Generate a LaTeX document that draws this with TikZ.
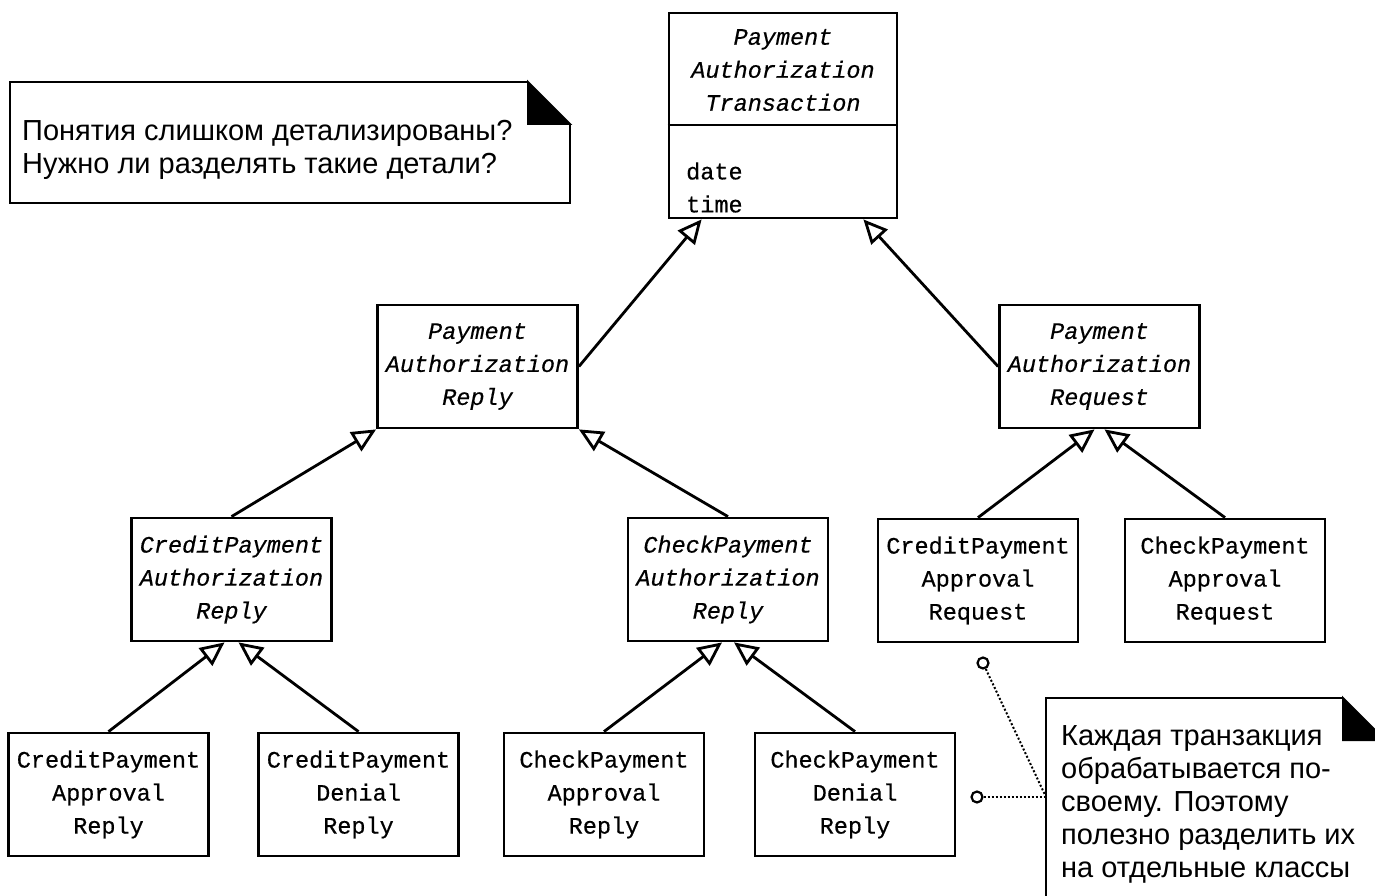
\documentclass[tikz,border=0pt]{standalone}
\usepackage{fontspec}
\setmainfont{Liberation Sans}
\setmonofont[FakeBold=0.5]{Liberation Mono}
\usetikzlibrary{arrows.meta}

\begin{document}
\begin{tikzpicture}[x=1pt,y=-1pt,
    klasse/.style={draw,line width=2.8pt,fill=white,minimum width=200pt,minimum height=123pt,
      inner sep=0pt,align=center,font=\ttfamily\fontsize{23.5}{33}\selectfont},
    abstrakt/.style={klasse,font=\ttfamily\itshape\fontsize{23.5}{33}\selectfont},
    erbt/.style={line width=2.8pt,-{Triangle[open,length=24pt,width=22pt]}},
    notiz/.style={anchor=north west,inner sep=0pt,align=left,font=\fontsize{29}{33}\selectfont},
    punkt/.style={draw,circle,line width=2.2pt,minimum size=11pt,inner sep=0pt},
    anker/.style={line width=2pt,dash pattern=on 2pt off 2pt}]
  \useasboundingbox (0,0) rectangle (1375,896);
  \clip (0,0) rectangle (1375,896);

  % Oberklasse mit Attributen
  \node[klasse,minimum width=228pt,minimum height=205pt] (pat) at (783,115.5) {};
  \draw[line width=2.8pt] (pat.west |- 0,125) -- (pat.east |- 0,125);
  \node[font=\ttfamily\itshape\fontsize{23.5}{33}\selectfont,align=center] (pattitel) at (783,70)
    {Payment\\Authorization\\Transaction};
  \node[font=\ttfamily\fontsize{23.5}{33}\selectfont,align=left,anchor=west,inner sep=0pt] (patattr)
    at (686,187.5) {date\\time};

  % abstrakte Klassen
  \node[abstrakt] (par) at (477.5,366.5) {Payment\\Authorization\\Reply};
  \node[abstrakt] (parq) at (1099.5,366.5) {Payment\\Authorization\\Request};
  \node[abstrakt] (cpar) at (231.5,579.5) {CreditPayment\\Authorization\\Reply};
  \node[abstrakt] (chpar) at (728,579.5) {CheckPayment\\Authorization\\Reply};

  % konkrete Klassen
  \foreach \name/\x/\y/\inhalt in {cpaq/978/580.5/{CreditPayment\\Approval\\Request},
      chpaq/1225/580.5/{CheckPayment\\Approval\\Request},
      cpap/108.5/794.5/{CreditPayment\\Approval\\Reply},
      cpde/358.5/794.5/{CreditPayment\\Denial\\Reply},
      chpap/604/794.5/{CheckPayment\\Approval\\Reply},
      chpde/855/794.5/{CheckPayment\\Denial\\Reply}}
    \node[klasse] (\name) at (\x,\y) {\inhalt};

  % Vererbung
  \draw[erbt] (par.east) -- ([xshift=34pt]pat.south west);
  \draw[erbt] (parq.west) -- ([xshift=-35pt]pat.south east);
  \draw[erbt] (cpar.north) -- (par.south west);
  \draw[erbt] (chpar.north) -- (par.south east);
  \foreach \kind/\eltern/\dx in {cpaq/parq/-5pt,chpaq/parq/5pt,
      cpap/cpar/-7pt,cpde/cpar/7pt,chpap/chpar/-6pt,chpde/chpar/6pt}
    \draw[erbt] (\kind.north) -- ([xshift=\dx]\eltern.south);

  % Notiz oben links
  \draw[line width=2pt] (528,82) -- (10,82) -- (10,203) -- (570,203) -- (570,124);
  \filldraw[line width=2pt] (528,82) -- (570,124) -- (528,124) -- cycle;
  \node[notiz] (frage) at (22,120)
    {Понятия слишком детализированы?\\Нужно ли разделять такие детали?};

  % Notiz unten rechts
  \draw[line width=2pt] (1046,920) -- (1046,698) -- (1343,698);
  \filldraw[line width=2pt] (1343,698) -- (1385,740) -- (1343,740) -- cycle;
  \node[notiz] (hinweis) at (1061,725)
    {Каждая транзакция\\обрабатывается по-\\своему. Поэтому\\полезно разделить их\\на отдельные классы};
  \coordinate (fuss) at (1046,797);
  \node[punkt] (p1) at (983,663) {};
  \node[punkt] (p2) at (977,797) {};
  \draw[anker] (p1) -- (fuss);
  \draw[anker] (p2) -- (fuss);
\end{tikzpicture}
\end{document}
